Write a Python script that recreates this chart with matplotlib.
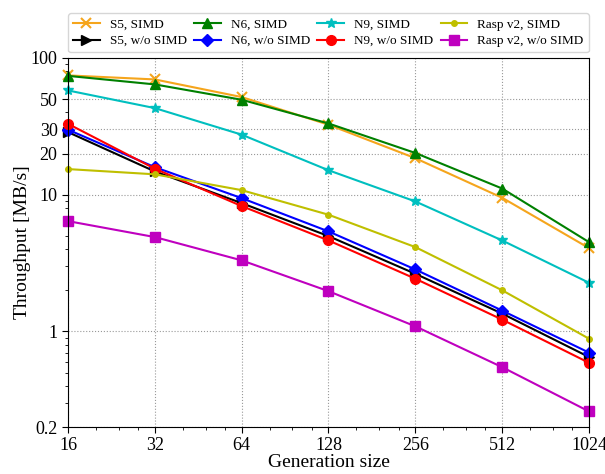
import matplotlib
matplotlib.use("Agg")
import matplotlib.pyplot as plt
from matplotlib.ticker import FixedLocator, FixedFormatter, NullFormatter, LogLocator

plt.rcParams['font.family'] = ['Liberation Serif', 'DejaVu Serif']
plt.rcParams['mathtext.fontset'] = 'stix'

gen_sizes = [16, 32, 64, 128, 256, 512, 1024]
x_tick_labels = ['16', '32', '64', '128', '256', '512', '1024']
y_ticks = [0.2, 1, 10, 20, 30, 50, 100]
y_tick_labels = ['0.2', '1', '10', '20', '30', '50', '100']

s5_simd = [74.6, 69.7, 51.8, 32.5, 18.5, 9.5, 4.07]
s5_nosimd = [28.7, 14.8, 8.68, 4.98, 2.64, 1.35, 0.65]
n6_simd = [74.0, 64.1, 49.5, 33.2, 20.2, 11.1, 4.5]
n6_nosimd = [29.9, 15.9, 9.44, 5.39, 2.84, 1.42, 0.70]
n9_simd = [57.9, 43.0, 27.5, 15.1, 8.93, 4.63, 2.27]
n9_nosimd = [33.0, 15.5, 8.26, 4.63, 2.43, 1.22, 0.59]
rasp_simd = [15.4, 14.1, 10.8, 7.14, 4.14, 2.0, 0.885]
rasp_nosimd = [6.41, 4.9, 3.31, 1.97, 1.09, 0.548, 0.26]

fig = plt.figure(figsize=(6.05, 4.74), dpi=100)
ax = fig.add_axes([68/605, 1-427/474, (589-68)/605, (427-58)/474])

series = [
    ("S5, SIMD", s5_simd, '#f5a51c', 'x', 7),
    ("S5, w/o SIMD", s5_nosimd, 'k', '>', 7),
    ("N6, SIMD", n6_simd, 'g', '^', 7),
    ("N6, w/o SIMD", n6_nosimd, 'b', 'D', 6),
    ("N9, SIMD", n9_simd, 'c', '*', 7),
    ("N9, w/o SIMD", n9_nosimd, 'r', 'o', 7),
    ("Rasp v2, SIMD", rasp_simd, 'y', 'o', 4),
    ("Rasp v2, w/o SIMD", rasp_nosimd, 'm', 's', 7),
]
for label, vals, color, marker, ms in series:
    ax.plot(gen_sizes, vals, color=color, marker=marker, markersize=ms,
            linewidth=1.5, label=label, markeredgewidth=1.5 if marker == 'x' else 1.0,
            clip_on=False)

ax.set_xscale('log', base=2)
ax.set_yscale('log')
ax.set_xlim(16, 1024)
ax.set_ylim(0.2, 100)
ax.xaxis.set_major_locator(FixedLocator(gen_sizes))
ax.xaxis.set_major_formatter(FixedFormatter(x_tick_labels))
ax.xaxis.set_minor_locator(LogLocator(base=2, subs=[1.25, 1.5, 1.75]))
ax.xaxis.set_minor_formatter(NullFormatter())
ax.yaxis.set_major_locator(FixedLocator(y_ticks))
ax.yaxis.set_major_formatter(FixedFormatter(y_tick_labels))
ax.yaxis.set_minor_locator(LogLocator(base=10, subs=range(2, 10)))
ax.yaxis.set_minor_formatter(NullFormatter())
ax.tick_params(axis='both', which='major', labelsize=13, length=4, direction='out')
ax.tick_params(axis='both', which='minor', length=2, direction='out')
ax.grid(True, which='major', linestyle=':', color='#999999', linewidth=0.8)

ax.set_xlabel('Generation size', fontsize=14, labelpad=0)
ax.set_ylabel('Throughput [MB/s]', fontsize=14, labelpad=0)

ax.legend(loc='lower left', bbox_to_anchor=(0.0, 1.015, 1.0, 0.1), mode='expand',
          ncol=4, fontsize=9.5, frameon=True, fancybox=True, borderaxespad=0.0,
          handlelength=2.0, handletextpad=0.8, labelspacing=0.3, columnspacing=0.5)

fig.savefig('out.png', dpi=100)
